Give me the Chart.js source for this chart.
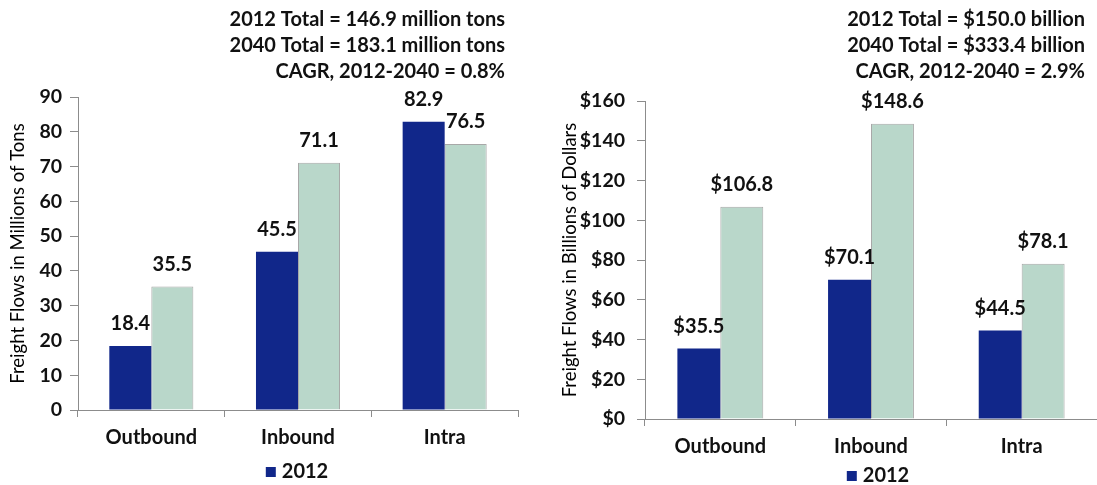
<!DOCTYPE html>
<html>
<head>
<meta charset="utf-8">
<script src="https://cdn.jsdelivr.net/npm/chart.js@4.4.1/dist/chart.umd.min.js"></script>
<style>
  html, body { margin: 0; padding: 0; background: #ffffff; }
  #wrap { position: relative; width: 1097px; height: 485px; overflow: hidden; }
  #tons { position: absolute; left: 0; top: 0; }
  #dollars { position: absolute; left: 540px; top: 0; }
</style>
</head>
<body>
<div id="wrap">
  <canvas id="tons" width="540" height="485"></canvas>
  <canvas id="dollars" width="557" height="485"></canvas>
</div>
<script>
// Flow directions
const categories = ['Outbound', 'Inbound', 'Intra'];
const seriesNames = ['2012', '2040'];

// Freight tonnage, millions of tons
const tons2012 = [18.4, 45.5, 82.9];
const tons2040 = [35.5, 71.1, 76.5];
const tonsTicks = [0, 10, 20, 30, 40, 50, 60, 70, 80, 90];
const tonsNotes = [
  '2012 Total = 146.9 million tons',
  '2040 Total = 183.1 million tons',
  'CAGR, 2012-2040 = 0.8%'
];

// Freight value, billions of dollars
const dollars2012 = [35.5, 70.1, 44.5];
const dollars2040 = [106.8, 148.6, 78.1];
const dollarTicks = [0, 20, 40, 60, 80, 100, 120, 140, 160];
const dollarNotes = [
  '2012 Total = $150.0 billion',
  '2040 Total = $333.4 billion',
  'CAGR, 2012-2040 = 2.9%'
];

const FONT = "Lato, 'Open Sans', 'DejaVu Sans', sans-serif";
const NAVY = '#11278A';
const SAGE = '#B9D7CA';
const AXIS = '#8C8C8C';
const TEXT = '#111111';
const BOLD = 20;

Chart.defaults.font.family = FONT;
Chart.defaults.color = TEXT;

// Value labels above every bar
const valueLabels = {
  id: 'valueLabels',
  afterDatasetsDraw(chart, args, opts) {
    const ctx = chart.ctx;
    ctx.save();
    ctx.font = 'bold ' + BOLD + 'px ' + FONT;
    ctx.fillStyle = TEXT;
    ctx.textAlign = 'center';
    ctx.textBaseline = 'middle';
    chart.data.datasets.forEach((ds, i) => {
      chart.getDatasetMeta(i).data.forEach((bar, j) => {
        ctx.fillText(opts.prefix + ds.data[j].toFixed(1), bar.x, bar.y - 22);
      });
    });
    ctx.restore();
  }
};

// Totals block in the upper right corner
const totalsNote = {
  id: 'totalsNote',
  afterDraw(chart, args, opts) {
    const ctx = chart.ctx;
    ctx.save();
    ctx.font = 'bold ' + BOLD + 'px ' + FONT;
    ctx.fillStyle = TEXT;
    ctx.textAlign = 'right';
    ctx.textBaseline = 'middle';
    opts.lines.forEach((line, k) => {
      ctx.fillText(line, chart.chartArea.right - opts.inset, 20 + k * 26);
    });
    ctx.restore();
  }
};

// Legend showing only the first series
const keyLegend = {
  id: 'keyLegend',
  afterDraw(chart, args, opts) {
    const ctx = chart.ctx;
    const ds = chart.data.datasets[0];
    ctx.save();
    ctx.font = 'bold ' + BOLD + 'px ' + FONT;
    const tw = ctx.measureText(ds.label).width;
    const total = 10 + 6 + tw;
    const cx = (chart.chartArea.left + chart.chartArea.right) / 2 + opts.shift;
    const x0 = cx - total / 2;
    ctx.fillStyle = ds.backgroundColor;
    ctx.fillRect(x0, opts.y - 5, 10, 10);
    ctx.fillStyle = TEXT;
    ctx.textAlign = 'left';
    ctx.textBaseline = 'middle';
    ctx.fillText(ds.label, x0 + 16, opts.y);
    ctx.restore();
  }
};

function makeChart(canvasId, cfg) {
  return new Chart(document.getElementById(canvasId), {
    type: 'bar',
    data: {
      labels: categories,
      datasets: [
        { label: seriesNames[0], data: cfg.first, backgroundColor: NAVY, borderWidth: 0,
          categoryPercentage: cfg.catPct, barPercentage: 1.0 },
        { label: seriesNames[1], data: cfg.second, backgroundColor: SAGE, borderColor: '#A8A8A8',
          borderWidth: 1, categoryPercentage: cfg.catPct, barPercentage: 1.0 }
      ]
    },
    options: {
      responsive: false,
      animation: false,
      devicePixelRatio: 1,
      layout: { padding: cfg.padding },
      plugins: {
        legend: { display: false },
        tooltip: { enabled: false },
        valueLabels: { prefix: cfg.prefix },
        totalsNote: { lines: cfg.notes, inset: cfg.noteInset },
        keyLegend: { y: cfg.legendY, shift: cfg.legendShift }
      },
      scales: {
        x: {
          afterFit(scale) { scale.height = cfg.xHeight; },
          border: { display: true, color: AXIS, width: 1 },
          grid: { display: true, drawOnChartArea: false, drawTicks: true, tickLength: 7, color: AXIS, offset: true },
          ticks: { font: { size: BOLD, weight: 'bold' }, color: TEXT, padding: 9 }
        },
        y: {
          min: 0,
          max: cfg.ticks[cfg.ticks.length - 1],
          afterFit(scale) { scale.width = cfg.yWidth; },
          afterBuildTicks(scale) { scale.ticks = cfg.ticks.map(v => ({ value: v })); },
          border: { display: true, color: AXIS, width: 1 },
          grid: { display: true, drawOnChartArea: false, drawTicks: true, tickLength: 8, color: AXIS },
          ticks: {
            font: { size: 19.5, weight: 'bold' }, color: TEXT, padding: cfg.tickPad,
            callback: v => cfg.prefix + v
          },
          title: {
            display: true, text: cfg.title, color: '#000000',
            font: { size: 18.5, weight: 'normal' }, padding: { top: 4, bottom: 4 }
          }
        }
      }
    },
    plugins: [valueLabels, totalsNote, keyLegend]
  });
}

makeChart('tons', {
  first: tons2012, second: tons2040, ticks: tonsTicks, notes: tonsNotes,
  prefix: '', title: 'Freight Flows in Millions of Tons',
  padding: { left: 3, top: 97, right: 22, bottom: 0 },
  yWidth: 75, xHeight: 75, tickPad: 8, catPct: 0.573,
  noteInset: 13, legendY: 472, legendShift: -1
});

makeChart('dollars', {
  first: dollars2012, second: dollars2040, ticks: dollarTicks, notes: dollarNotes,
  prefix: '$', title: 'Freight Flows in Billions of Dollars',
  padding: { left: 15, top: 101, right: 0, bottom: 0 },
  yWidth: 90, xHeight: 66, tickPad: 12, catPct: 0.57,
  noteInset: 12, legendY: 476, legendShift: 7
});
</script>
</body>
</html>
